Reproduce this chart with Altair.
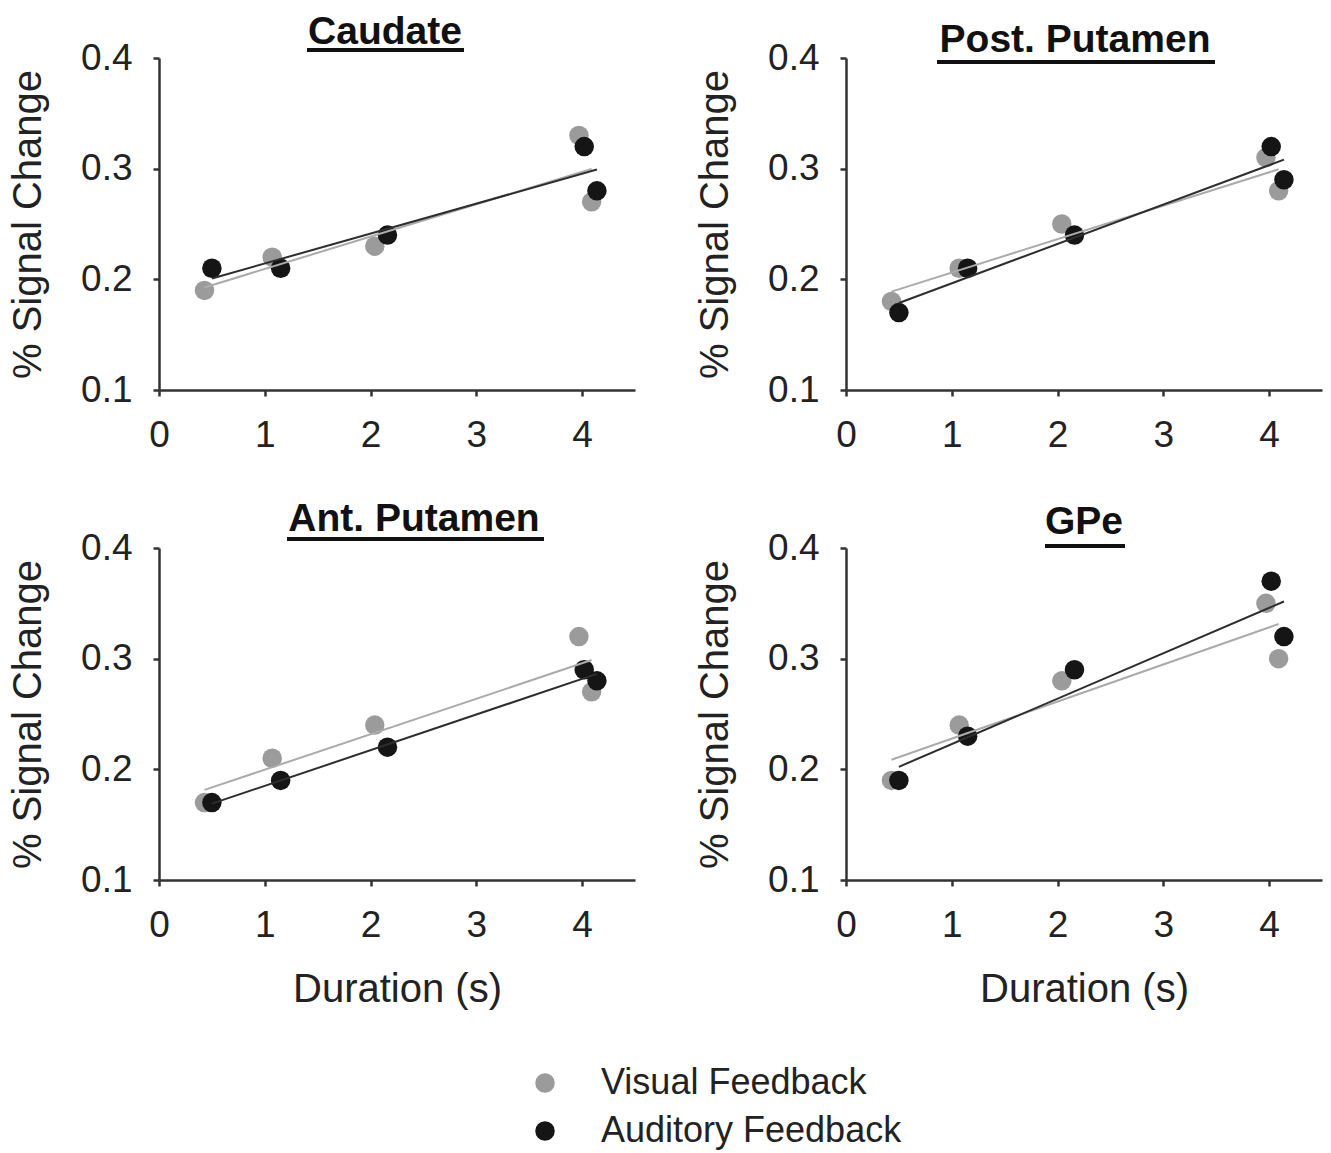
import altair as alt
import pandas as pd

regions = ["Caudate", "Post. Putamen", "Ant. Putamen", "GPe"]
groups = ["Visual Feedback", "Auditory Feedback"]

duration_visual = [0.43, 1.07, 2.04, 3.97, 4.09]
duration_auditory = [0.50, 1.15, 2.16, 4.02, 4.14]

caudate_visual = [0.19, 0.22, 0.23, 0.33, 0.27]
caudate_auditory = [0.21, 0.21, 0.24, 0.32, 0.28]
post_putamen_visual = [0.18, 0.21, 0.25, 0.31, 0.28]
post_putamen_auditory = [0.17, 0.21, 0.24, 0.32, 0.29]
ant_putamen_visual = [0.17, 0.21, 0.24, 0.32, 0.27]
ant_putamen_auditory = [0.17, 0.19, 0.22, 0.29, 0.28]
gpe_visual = [0.19, 0.24, 0.28, 0.35, 0.30]
gpe_auditory = [0.19, 0.23, 0.29, 0.37, 0.32]

series = {
    "Caudate": (caudate_visual, caudate_auditory),
    "Post. Putamen": (post_putamen_visual, post_putamen_auditory),
    "Ant. Putamen": (ant_putamen_visual, ant_putamen_auditory),
    "GPe": (gpe_visual, gpe_auditory),
}

rows = []
for region in regions:
    vis, aud = series[region]
    for d, v in zip(duration_visual, vis):
        rows.append({"region": region, "group": groups[0], "ord": 0, "duration": d, "signal": v})
    for d, v in zip(duration_auditory, aud):
        rows.append({"region": region, "group": groups[1], "ord": 1, "duration": d, "signal": v})
df = pd.DataFrame(rows)

# title placement relative to each plot area (text centre x, baseline y, underline x1, x2, y)
title_geom = {
    "Caudate": (226, -14, 148, 305, -8),
    "Post. Putamen": (229, -6, 91, 369, 4),
    "Ant. Putamen": (255, -17, 128, 385, -9),
    "GPe": (238, -14, 199, 279, -2),
}

FONT = "Liberation Sans"
W, H = 476, 332


def panel(region, show_x_title):
    base = alt.Chart(df).transform_filter(alt.datum.region == region)
    x_axis = dict(values=[0, 1, 2, 3, 4], format="d", labelPadding=21, labelFlush=False)
    x_axis["title"] = "Duration (s)" if show_x_title else ""
    x_enc = alt.X("duration:Q", scale=alt.Scale(domain=[0, 4.5], nice=False, zero=False),
                  axis=alt.Axis(**x_axis))
    y_enc = alt.Y("signal:Q", scale=alt.Scale(domain=[0.1, 0.4], nice=False, zero=False),
                  axis=alt.Axis(values=[0.1, 0.2, 0.3, 0.4], format=".1f",
                                title="% Signal Change", labelPadding=21, titlePadding=32))
    pts = base.mark_circle(size=380, opacity=1).encode(
        x=x_enc,
        y=y_enc,
        color=alt.Color("group:N", scale=alt.Scale(domain=groups, range=["#9b9b9b", "#151515"]),
                        legend=alt.Legend(title=None, orient="none", legendX=368, legendY=1007,
                                          symbolSize=380, symbolType="circle",
                                          labelFontSize=36, labelOffset=38, rowPadding=12,
                                          labelLimit=0,
                                          symbolStrokeWidth=0, symbolOpacity=1,
                                          labelFont=FONT, labelColor="#222")),
        order=alt.Order("ord:Q"),
    )
    lines = base.transform_regression("duration", "signal", groupby=["group"]).mark_line(
        strokeWidth=2
    ).encode(
        x="duration:Q",
        y="signal:Q",
        stroke=alt.Stroke("group:N", scale=alt.Scale(domain=groups, range=["#ababab", "#2e2e2e"]),
                          legend=None),
    )
    tx, ty, ux1, ux2, uy = title_geom[region]
    one = pd.DataFrame({"label": [region]})
    title = alt.Chart(one).mark_text(
        font=FONT, fontSize=39, fontWeight="bold", align="center", baseline="alphabetic", color="#111"
    ).encode(text="label:N", x=alt.value(tx), y=alt.value(ty))
    underline = alt.Chart(one).mark_rule(strokeWidth=4, color="#111").encode(
        x=alt.value(ux1), x2=alt.value(ux2), y=alt.value(uy)
    )
    return alt.layer(pts, lines, title, underline).properties(width=W, height=H)


top = alt.hconcat(panel("Caudate", False), panel("Post. Putamen", False), spacing=59)
bottom = alt.hconcat(panel("Ant. Putamen", True), panel("GPe", True), spacing=59)

chart = alt.vconcat(top, bottom, spacing=45).properties(
    padding={"left": 8, "top": 12, "right": 5, "bottom": 5}
).configure_view(stroke="transparent").configure_axis(
    labelFont=FONT, titleFont=FONT, labelFontSize=37, titleFontSize=40,
    labelColor="#222", titleColor="#222", titleFontWeight="normal",
    domainColor="#333", domainWidth=2.5, tickColor="#333", tickWidth=2.5, tickSize=6,
    grid=False, labelAngle=0,
).configure_axisX(titlePadding=26).configure_text(font=FONT)

chart.save("out.html", embed_options={"renderer": "svg", "actions": False})
